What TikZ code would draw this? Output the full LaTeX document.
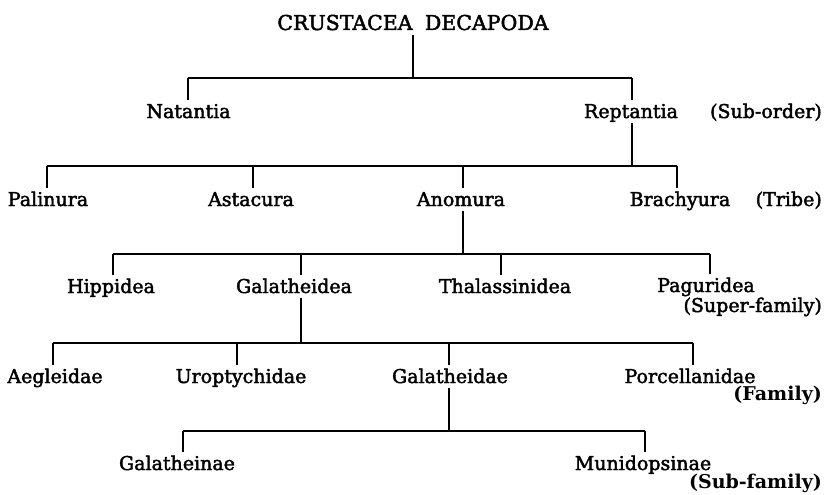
\documentclass[tikz,border=0pt]{standalone}
\usepackage{fontspec}
\setmainfont{DejaVu Serif}
\newfontfamily\heavyserif{DejaVu Serif}[FakeBold=2.2]
\begin{document}
\begin{tikzpicture}[x=1pt,y=-1pt,
  taxon/.style={anchor=base, inner xsep=0pt, inner ysep=5pt, text height=13pt, text depth=0pt, font=\heavyserif\fontsize{19}{22}\selectfont},
  rank/.style={anchor=base east, inner sep=0pt, font=\heavyserif\fontsize{19}{22}\selectfont},
  boldrank/.style={rank, font=\fontsize{19}{22}\selectfont\bfseries},
  link/.style={line width=1.3pt}]
\useasboundingbox (0,0) rectangle (828,495);
% nodes
\node[taxon, font=\heavyserif\fontsize{20.5}{24}\selectfont] (title) at (413,30) {CRUSTACEA\hspace{0.6em}DECAPODA};
\node[taxon] (nat) at (188.5,118) {Natantia};
\node[taxon] (rep) at (631,118) {Reptantia};
\node[rank]  (subord) at (822,118) {(Sub-order)};
\node[taxon] (pal) at (48,206) {Palinura};
\node[taxon] (ast) at (251,206) {Astacura};
\node[taxon] (ano) at (461,206) {Anomura};
\node[taxon] (bra) at (680,206) {Brachyura};
\node[rank]  (tribe) at (822,206) {(Tribe)};
\node[taxon] (hip) at (111,293) {Hippidea};
\node[taxon] (gal) at (294,293) {Galatheidea};
\node[taxon] (tha) at (505,293) {Thalassinidea};
\node[taxon] (pag) at (706,292) {Paguridea};
\node[rank]  (supfam) at (822,312) {(Super-family)};
\node[taxon] (aeg) at (55,383) {Aegleidae};
\node[taxon] (uro) at (241,383) {Uroptychidae};
\node[taxon] (gae) at (450,383) {Galatheidae};
\node[taxon] (por) at (690,383) {Porcellanidae};
\node[boldrank] (fam) at (822,400) {(Family)};
\node[taxon] (gin) at (177,470) {Galatheinae};
\node[taxon] (mun) at (643,470) {Munidopsinae};
\node[boldrank] (subfam) at (822,488) {(Sub-family)};
% bar tick coordinates
\coordinate (r0) at (413,78);
\coordinate (t1a) at (188,78);  \coordinate (t1b) at (632,78);
\coordinate (t2a) at (47,166);  \coordinate (t2b) at (253,166);
\coordinate (t2c) at (463,166); \coordinate (t2d) at (677,166);
\coordinate (r2) at (632,166);
\coordinate (t3a) at (113,254); \coordinate (t3b) at (301,254);
\coordinate (t3c) at (501,254); \coordinate (t3d) at (710,254);
\coordinate (r3) at (463,254);
\coordinate (t4a) at (53,343);  \coordinate (t4b) at (237,343);
\coordinate (t4c) at (449,343); \coordinate (t4d) at (693,343);
\coordinate (r4) at (301,343);
\coordinate (t5a) at (183,431); \coordinate (t5b) at (645,431);
\coordinate (r5) at (449,431);
% level 1
\draw[link] (title.south) -- (r0);
\draw[link] (t1a) -- (t1b);
\draw[link] (t1a) -- (t1a |- nat.north);
\draw[link] (t1b) -- (t1b |- rep.north);
% level 2
\draw[link] (r2 |- rep.south) -- (r2);
\draw[link] (t2a) -- (t2d);
\draw[link] (t2a) -- (t2a |- pal.north);
\draw[link] (t2b) -- (t2b |- ast.north);
\draw[link] (t2c) -- (t2c |- ano.north);
\draw[link] (t2d) -- (t2d |- bra.north);
% level 3
\draw[link] (r3 |- ano.south) -- (r3);
\draw[link] (t3a) -- (t3d);
\draw[link] (t3a) -- (t3a |- hip.north);
\draw[link] (t3b) -- (t3b |- gal.north);
\draw[link] (t3c) -- (t3c |- tha.north);
\draw[link] (t3d) -- (t3d |- pag.north);
% level 4
\draw[link] (r4 |- gal.south) -- (r4);
\draw[link] (t4a) -- (t4d);
\draw[link] (t4a) -- (t4a |- aeg.north);
\draw[link] (t4b) -- (t4b |- uro.north);
\draw[link] (t4c) -- (t4c |- gae.north);
\draw[link] (t4d) -- (t4d |- por.north);
% level 5
\draw[link] (r5 |- gae.south) -- (r5);
\draw[link] (t5a) -- (t5b);
\draw[link] (t5a) -- (t5a |- gin.north);
\draw[link] (t5b) -- (t5b |- mun.north);
\end{tikzpicture}
\end{document}
